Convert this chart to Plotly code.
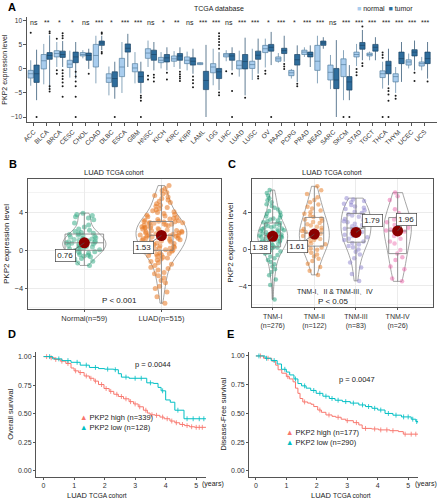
import plotly.graph_objects as go
import numpy as np

W, H = 438, 500
FONT = "Liberation Sans, Arial, Helvetica, sans-serif"

# ---------------- Panel A data (TCGA database) ----------------
cancers = ["ACC", "BLCA", "BRCA", "CESC", "CHOL", "COAD", "DLBC", "ESCA", "GBM", "HNSC", "KICH",
           "KIRC", "KIRP", "LAML", "LGG", "LIHC", "LUAD", "LUSC", "OV", "PAAD", "PCPG", "PRAD",
           "READ", "SARC", "SKCM", "STAD", "TGCT", "THCA", "THYM", "UCEC", "UCS"]
sig_labels = ["ns", "**", "*", "*", "ns", "***", "*", "***", "***", "ns", "*", "**", "ns", "***", "***",
              "ns", "***", "***", "*", "***", "*", "***", "***", "ns", "***", "***", "***", "***", "***",
              "***", "***"]

normal_lo = [-3.5, -3.2, 0.4, -1.8, 2.2, -3.0, -5.5, -5.0, -3.0, 0.4, 0.1, 0.4, -0.3, 0.8, -3.4, 1.6,
             -1.6, -2.3, 0.3, 1.3, -2.0, 2.5, -3.0, -4.2, -6.5, 0.6, 1.8, -4.1, -5.0, 0.1, -0.3]
normal_q1 = [-1.9, 0.0, 2.5, 0.3, 2.7, 0.4, -2.8, -1.6, -0.6, 2.2, 1.3, 1.6, 1.1, 0.9, -0.8, 2.5,
             0.0, 0.1, 3.4, 1.6, -1.4, 3.0, -0.3, -2.3, -1.6, 2.5, 2.7, -1.8, -2.7, 0.8, 0.6]
normal_med = [-1.0, 1.7, 3.2, 1.0, 3.0, 2.8, -1.9, 0.4, 0.2, 3.3, 1.8, 2.1, 1.8, 1.1, 0.4, 2.9,
              0.76, 0.9, 4.2, 2.1, -0.8, 3.5, 1.6, -0.7, 0.9, 3.0, 3.0, -1.0, -1.6, 1.45, 1.1]
normal_q3 = [-0.3, 3.0, 3.8, 1.8, 3.4, 5.1, -1.0, 2.2, 1.1, 4.2, 2.4, 2.7, 2.5, 1.3, 1.1, 3.2,
             1.7, 1.6, 4.9, 2.5, -0.3, 3.9, 4.9, 0.8, 2.1, 3.5, 3.3, -0.4, -1.0, 1.9, 1.45]
normal_hi = [1.8, 5.2, 5.6, 3.8, 3.9, 6.9, 0.5, 5.6, 3.5, 5.9, 3.5, 3.7, 3.6, 1.4, 4.2, 3.9,
             3.8, 4.2, 6.3, 3.3, 0.0, 4.5, 6.9, 2.9, 3.9, 5.2, 3.6, 1.5, 0.4, 3.2, 2.5]

tumor_lo = [-6.5, -4.1, 0.4, -2.0, 0.0, 3.9, -6.2, 0.4, -5.1, -0.3, -0.3, 0.0, -1.0, -10.0, -4.4, -0.3,
            -5.5, -1.0, 0.8, 1.5, -2.7, 0.4, 4.2, -10.0, -6.5, 1.8, 1.8, -3.4, -2.7, -0.3, -2.0]
tumor_q1 = [-2.8, 2.0, 2.4, 1.3, 1.8, 4.9, -3.7, 3.5, -2.8, 1.8, 1.45, 1.8, 0.8, -4.3, -2.0, 1.8,
            0.0, 2.0, 3.7, 3.2, 0.8, 2.5, 4.9, -4.1, -4.4, 4.1, 3.7, -1.0, 1.1, 2.7, 1.1]
tumor_med = [-1.0, 2.8, 3.0, 2.5, 2.8, 5.4, -2.0, 4.3, -1.6, 3.0, 2.3, 2.7, 1.6, -2.4, -0.6, 2.7,
             1.53, 2.85, 4.5, 3.8, 1.9, 3.0, 5.4, -2.3, -2.7, 4.9, 4.5, 0.76, 2.15, 3.5, 2.15]
tumor_q3 = [0.8, 3.4, 3.7, 3.5, 3.3, 5.8, -0.6, 5.2, -0.6, 3.9, 3.0, 3.2, 2.3, -0.5, 0.1, 3.2,
            3.0, 3.7, 5.1, 4.3, 3.0, 3.5, 5.8, 0.1, -1.6, 5.5, 5.1, 1.6, 3.5, 4.0, 3.5]
tumor_hi = [4.0, 7.0, 5.8, 5.6, 4.2, 6.9, 1.5, 7.3, 1.5, 5.6, 4.5, 4.5, 4.2, 5.0, 3.5, 4.5,
            6.5, 6.3, 7.7, 6.9, 4.9, 4.9, 6.6, 6.0, 0.8, 8.1, 6.6, 4.2, 5.6, 5.9, 5.6]

out_normal_cat = ["ACC", "BRCA", "BRCA", "BRCA", "HNSC", "HNSC", "LIHC", "OV", "OV", "STAD", "STAD",
                  "STAD", "THCA", "THCA", "THCA", "THCA", "THYM", "THYM", "SKCM"]
out_normal_val = [7.5, -0.3, -1.0, 6.3, -1.4, -2.2, -0.5, -0.4, -1.0, 0.0, -0.7, -1.3, 2.3, 2.9, 3.4,
                  -10.0, -5.6, -6.2, -10.0]
out_tumor_cat = ["ACC", "BLCA", "BLCA", "BLCA", "BLCA", "BLCA", "BRCA", "BRCA", "BRCA", "BRCA", "BRCA",
                 "BRCA", "BRCA", "BRCA", "BRCA", "BRCA", "CESC", "CESC", "CESC", "CESC", "CESC", "CESC",
                 "CHOL", "COAD", "COAD", "COAD", "COAD", "DLBC", "GBM", "GBM", "GBM", "GBM", "HNSC",
                 "HNSC", "HNSC", "KICH", "KICH", "KIRC", "KIRC", "KIRC", "KIRC", "KIRC", "KIRP", "KIRP",
                 "KIRP", "KIRP", "LGG", "LGG", "LGG", "LGG", "LGG", "LGG", "LGG", "LGG", "LIHC", "LIHC",
                 "LIHC", "LUAD", "LUSC", "LUSC", "OV", "PAAD", "PAAD", "PAAD", "PCPG", "PCPG", "SKCM",
                 "STAD", "STAD", "STAD", "THCA", "THCA", "THCA", "THCA", "THCA", "UCEC", "UCEC", "UCS"]
out_tumor_val = [-10.0, 7.4, 7.8, -3.6, -4.2, -4.7, 6.4, 6.9, 7.4, -0.3, -0.9, -1.5, -2.1, -2.8, -3.6,
                 -5.8, -0.6, -1.6, -2.6, -3.6, -5.8, -10.0, -1.0, 7.3, 7.6, 3.5, 3.2, -10.0, -5.6, -6.0,
                 -6.6, -10.0, -1.2, -1.8, -2.6, -0.8, -2.2, -0.6, -1.1, -1.6, -2.0, -2.5, -1.6, -2.3,
                 -3.0, -3.8, 4.2, 5.0, 5.6, 6.2, 6.8, 7.4, -4.9, -5.5, -1.0, -4.6, -10.0, -6.0, -1.5,
                 -2.0, -10.0, 1.0, 0.5, 0.0, -3.1, -3.6, -10.0, 8.8, 1.2, 0.6, -4.0, -4.6, -5.3, -6.6,
                 -10.0, -2.5, -0.8, -2.6]

# ---------------- Panel B data (LUAD TCGA cohort) ----------------
groups_B = ["Normal(n=59)", "LUAD(n=515)"]
normal_vals = [-1.62, -1.35, -1.18, -0.95, -0.88, -0.7, -0.62, -0.55, -0.48, -0.41, -0.3, -0.22, -0.18,
               -0.1, -0.04, 0.02, 0.08, 0.12, 0.21, 0.27, 0.31, 0.38, 0.44, 0.49, 0.55, 0.58, 0.63,
               0.69, 0.72, 0.76, 0.81, 0.86, 0.92, 0.98, 1.04, 1.1, 1.17, 1.22, 1.29, 1.36, 1.42, 1.5,
               1.56, 1.63, 1.7, 1.77, 1.85, 1.96, 2.08, 2.2, 2.41, 2.63, 2.85, 3.18, 3.36, 3.5, 3.62,
               3.74, 3.88]
luad_vals = [-5.6, -4.9, -4.4, -4.05, -3.8, -3.45, -3.2, -2.95, -2.7, -2.5, -2.35, -2.1, -1.95, -1.8,
             -1.62, -1.5, -1.33, -1.2, -1.06, -0.95, -0.84, -0.76, -0.65, -0.58, -0.5, -0.43, -0.36,
             -0.3, -0.24, -0.19, -0.13, -0.08, -0.03, 0.03, 0.07, 0.14, 0.18, 0.23, 0.3, 0.34, 0.41,
             0.45, 0.52, 0.57, 0.61, 0.68, 0.73, 0.79, 0.84, 0.88, 0.95, 1.0, 1.03, 1.09, 1.14, 1.19,
             1.23, 1.28, 1.33, 1.37, 1.41, 1.44, 1.47, 1.5, 1.53, 1.57, 1.6, 1.65, 1.71, 1.74, 1.79,
             1.83, 1.88, 1.93, 1.97, 2.02, 2.06, 2.11, 2.17, 2.2, 2.26, 2.31, 2.35, 2.4, 2.46, 2.51,
             2.55, 2.6, 2.64, 2.7, 2.74, 2.79, 2.83, 2.87, 2.9, 2.94, 2.97, 3.0, 3.04, 3.09, 3.13, 3.2,
             3.27, 3.33, 3.42, 3.5, 3.58, 3.66, 3.75, 3.83, 3.94, 4.03, 4.12, 4.24, 4.35, 4.47, 4.6,
             4.72, 4.86, 5.0, 5.13, 5.27, 5.42, 5.58, 5.73, 5.9, 6.06, 6.25, 6.47, 6.78]
means_B = [0.76, 1.53]

# ---------------- Panel C data (TNM stages) ----------------
groups_C = ["TNM-I<br>(n=276)", "TNM-II<br>(n=122)", "TNM-III<br>(n=83)", "TNM-IV<br>(n=26)"]
tnm1 = [-5.45, -3.9, -3.3, -2.85, -2.5, -2.2, -1.9, -1.65, -1.4, -1.2, -1.0, -0.82, -0.65, -0.5, -0.38,
        -0.26, -0.15, -0.06, 0.02, 0.1, 0.16, 0.23, 0.3, 0.37, 0.43, 0.5, 0.56, 0.62, 0.69, 0.74, 0.8,
        0.86, 0.92, 0.97, 1.03, 1.08, 1.13, 1.19, 1.24, 1.3, 1.35, 1.38, 1.42, 1.47, 1.52, 1.58, 1.63,
        1.69, 1.74, 1.8, 1.86, 1.91, 1.97, 2.03, 2.1, 2.16, 2.22, 2.29, 2.36, 2.43, 2.5, 2.58, 2.66,
        2.74, 2.81, 2.9, 2.99, 3.08, 3.18, 3.29, 3.4, 3.52, 3.65, 3.8, 3.95, 4.1, 4.28, 4.46, 4.65,
        4.85, 5.05, 5.27, 5.5, 5.75, 6.05, 6.38]
tnm2 = [-2.8, -2.35, -1.95, -1.6, -1.3, -1.05, -0.8, -0.6, -0.4, -0.22, -0.08, 0.05, 0.15, 0.28, 0.4,
        0.52, 0.63, 0.75, 0.86, 0.97, 1.08, 1.18, 1.29, 1.4, 1.5, 1.58, 1.64, 1.73, 1.84, 1.95, 2.06,
        2.17, 2.29, 2.41, 2.54, 2.67, 2.8, 2.93, 3.06, 3.2, 3.3, 3.45, 3.62, 3.8, 3.98, 4.17, 4.37,
        4.58, 4.8, 5.05, 5.3, 5.6, 5.95, 6.35, 6.78]
tnm3 = [-3.45, -2.7, -2.0, -1.45, -1.0, -0.6, -0.3, -0.05, 0.18, 0.32, 0.5, 0.66, 0.82, 0.98, 1.12,
        1.26, 1.4, 1.53, 1.66, 1.78, 1.85, 1.96, 2.08, 2.2, 2.33, 2.46, 2.6, 2.74, 2.88, 3.0, 3.12,
        3.25, 3.38, 3.5, 3.63, 3.76, 3.9, 4.04, 4.18, 4.32, 4.46, 4.6, 4.75, 4.9, 5.05, 5.2, 5.35, 5.5]
tnm4 = [6.1, 5.7, 5.3, 4.3, 3.9, 3.6, 3.4, 3.2, 2.9, 2.6, 2.3, 2.1, 2.0, 1.9, 1.4, 1.1, 0.8, 0.6, -0.1,
        -0.5, -0.9, -1.2, -1.9, -2.2, -3.2, -3.5]
means_C = [1.38, 1.61, 1.79, 1.96]

# ---------------- Panel D / E data (Kaplan-Meier) ----------------
os_high_t = [0, 0.2, 0.36, 0.55, 0.73, 0.9, 1.0, 1.15, 1.33, 1.5, 1.65, 1.8, 1.98, 2.15, 2.3, 2.45, 2.62,
             2.8, 2.95, 3.1, 3.27, 3.4, 3.49, 3.65, 3.81, 3.95, 4.14, 4.3, 4.46, 4.62, 4.78, 4.95, 5.32]
os_high_s = [1.0, 0.99, 0.975, 0.96, 0.94, 0.9, 0.875, 0.86, 0.83, 0.81, 0.785, 0.755, 0.72, 0.695, 0.67,
             0.65, 0.63, 0.605, 0.585, 0.56, 0.53, 0.505, 0.49, 0.485, 0.47, 0.455, 0.435, 0.42, 0.405,
             0.395, 0.385, 0.38, 0.38]
os_low_t = [0, 0.3, 0.6, 0.9, 1.2, 1.5, 1.8, 2.0, 2.3, 2.45, 2.55, 2.8, 3.38, 3.6, 3.75, 3.85, 4.0,
            4.15, 4.3, 4.6, 5.32]
os_low_s = [1.0, 0.98, 0.965, 0.95, 0.925, 0.905, 0.895, 0.89, 0.885, 0.85, 0.82, 0.81, 0.77, 0.765,
            0.73, 0.7, 0.62, 0.6, 0.53, 0.455, 0.455]
os_high_cens = [0.1, 0.25, 0.4, 0.6, 0.8, 1.05, 1.2, 1.4, 1.55, 1.7, 1.9, 2.05, 2.2, 2.4, 2.55, 2.7,
                2.85, 3.0, 3.15, 3.35, 3.55, 3.7, 3.9, 4.05, 4.2, 4.35, 4.55, 4.7, 4.85, 5.0, 5.1, 5.2]
os_low_cens = [0.2, 0.5, 0.8, 1.1, 1.4, 1.7, 2.1, 2.35, 2.7, 3.0, 3.2, 3.5, 3.9, 4.4, 4.7, 4.9, 5.1, 5.25]

dfs_high_t = [0, 0.25, 0.52, 0.65, 0.73, 0.85, 1.0, 1.1, 1.22, 1.3, 1.38, 1.45, 1.54, 1.7, 1.81, 1.9,
              2.03, 2.15, 2.3, 2.5, 2.62, 2.8, 2.95, 3.2, 3.38, 3.49, 3.8, 4.03, 4.4, 4.68, 4.84, 5.32]
dfs_high_s = [1.0, 0.98, 0.955, 0.92, 0.88, 0.85, 0.82, 0.8, 0.775, 0.72, 0.675, 0.63, 0.6, 0.59, 0.58,
              0.56, 0.53, 0.51, 0.487, 0.475, 0.467, 0.45, 0.437, 0.42, 0.4, 0.37, 0.365, 0.357, 0.35,
              0.342, 0.32, 0.32]
dfs_low_t = [0, 0.3, 0.5, 0.7, 0.84, 1.0, 1.11, 1.25, 1.38, 1.5, 1.65, 1.8, 1.98, 2.2, 2.41, 2.6, 2.84,
             3.1, 3.38, 3.6, 3.81, 4.0, 4.24, 4.5, 4.78, 5.1, 5.25, 5.32]
dfs_low_s = [1.0, 0.98, 0.96, 0.93, 0.884, 0.86, 0.835, 0.8, 0.76, 0.74, 0.72, 0.7, 0.675, 0.65, 0.63,
             0.615, 0.603, 0.59, 0.574, 0.56, 0.545, 0.53, 0.5, 0.485, 0.47, 0.45, 0.43, 0.42]
dfs_high_cens = [0.15, 0.4, 1.05, 1.6, 2.1, 2.4, 2.7, 3.0, 3.3, 3.6, 3.9, 4.1, 4.3, 4.5, 4.9, 5.1, 5.25]
dfs_low_cens = [0.1, 0.35, 0.6, 0.95, 1.3, 1.6, 1.9, 2.1, 2.3, 2.5, 2.7, 2.95, 3.2, 3.5, 3.7, 3.9, 4.1,
                4.35, 4.6, 4.85, 5.0, 5.15, 5.28]

year_ticks = [0, 1, 2, 3, 4, 5]
surv_ticks = [0, 0.25, 0.5, 0.75, 1.0]

# ---------------- helpers ----------------
def fx(px):
    return px / W


def fy(py):
    return 1 - py / H


def step_at(times, surv, tq):
    idx = np.searchsorted(np.asarray(times), np.asarray(tq), side="right") - 1
    return np.asarray(surv)[idx]


NORMAL_FILL, NORMAL_LINE = "#a9cdee", "#56809f"
TUMOR_FILL, TUMOR_LINE = "#2f6d9c", "#1d4566"
HIGH, LOW = "#f8766d", "#00bfc4"

fig = go.Figure()

# ---------------- Panel A ----------------
fig.add_trace(go.Box(x=cancers, q1=normal_q1, median=normal_med, q3=normal_q3,
                     lowerfence=normal_lo, upperfence=normal_hi, name="normal", offsetgroup="normal",
                     fillcolor=NORMAL_FILL, line=dict(color=NORMAL_LINE, width=0.7), whiskerwidth=0,
                     boxpoints=False, xaxis="x", yaxis="y", showlegend=False, hoverinfo="skip"))
fig.add_trace(go.Box(x=cancers, q1=tumor_q1, median=tumor_med, q3=tumor_q3,
                     lowerfence=tumor_lo, upperfence=tumor_hi, name="tumor", offsetgroup="tumor",
                     fillcolor=TUMOR_FILL, line=dict(color=TUMOR_LINE, width=0.7), whiskerwidth=0,
                     boxpoints=False, xaxis="x", yaxis="y", showlegend=False, hoverinfo="skip"))
for cats, vals, grp in [(out_normal_cat, out_normal_val, "normal"), (out_tumor_cat, out_tumor_val, "tumor")]:
    fig.add_trace(go.Box(x=cats, y=vals, offsetgroup=grp, boxpoints="all", jitter=0, pointpos=0,
                         fillcolor="rgba(0,0,0,0)", line=dict(width=0, color="rgba(0,0,0,0)"),
                         whiskerwidth=0, marker=dict(color="#1a1a1a", size=2),
                         xaxis="x", yaxis="y", showlegend=False, hoverinfo="skip"))

# ---------------- Panel B ----------------
vals_B = [normal_vals, luad_vals]
colors_B = ["rgba(40,165,125,0.5)", "rgba(232,120,35,0.55)"]
pos_B = [1, 2]
vwidth_B = [0.56, 0.66]
bwidth_B = [0.5, 0.3]
for v, c, p, vw, bw in zip(vals_B, colors_B, pos_B, vwidth_B, bwidth_B):
    fig.add_trace(go.Violin(y=v, x0=p, width=vw, points="all", jitter=0.9, pointpos=0,
                            marker=dict(color=c, size=5), line=dict(color="#808080", width=0.7),
                            fillcolor="rgba(0,0,0,0)", spanmode="hard", box_visible=False,
                            meanline_visible=False, xaxis="x2", yaxis="y2", showlegend=False,
                            hoverinfo="skip"))
    fig.add_trace(go.Box(y=v, x0=p, width=bw, offsetgroup="b", boxpoints=False, whiskerwidth=0,
                         fillcolor="rgba(255,255,255,0.1)", line=dict(color="#7a7a7a", width=0.8),
                         xaxis="x2", yaxis="y2", showlegend=False, hoverinfo="skip"))
fig.add_trace(go.Scatter(x=pos_B, y=means_B, mode="markers", marker=dict(color="#8b0000", size=11),
                         xaxis="x2", yaxis="y2", showlegend=False, hoverinfo="skip"))

# ---------------- Panel C ----------------
vals_C = [tnm1, tnm2, tnm3, tnm4]
colors_C = ["rgba(27,158,119,0.5)", "rgba(230,120,30,0.5)", "rgba(140,130,205,0.5)", "rgba(235,100,170,0.5)"]
pos_C = [1, 2, 3, 4]
vwidth_C = [0.72, 0.72, 0.72, 0.66]
bwidth_C = [0.38, 0.45, 0.43, 0.43]
for v, c, p, vw, bw in zip(vals_C, colors_C, pos_C, vwidth_C, bwidth_C):
    fig.add_trace(go.Violin(y=v, x0=p, width=vw, points="all", jitter=0.9, pointpos=0,
                            marker=dict(color=c, size=4.5), line=dict(color="#808080", width=0.7),
                            fillcolor="rgba(0,0,0,0)", spanmode="hard", box_visible=False,
                            meanline_visible=False, xaxis="x3", yaxis="y3", showlegend=False,
                            hoverinfo="skip"))
    fig.add_trace(go.Box(y=v, x0=p, width=bw, offsetgroup="c", boxpoints=False, whiskerwidth=0,
                         fillcolor="rgba(255,255,255,0.1)", line=dict(color="#7a7a7a", width=0.8),
                         xaxis="x3", yaxis="y3", showlegend=False, hoverinfo="skip"))
fig.add_trace(go.Scatter(x=pos_C, y=means_C, mode="markers", marker=dict(color="#8b0000", size=11),
                         xaxis="x3", yaxis="y3", showlegend=False, hoverinfo="skip"))

# ---------------- Panels D, E ----------------
km_sets = [
    ("x4", "y4", os_high_t, os_high_s, os_high_cens, HIGH),
    ("x4", "y4", os_low_t, os_low_s, os_low_cens, LOW),
    ("x5", "y5", dfs_high_t, dfs_high_s, dfs_high_cens, HIGH),
    ("x5", "y5", dfs_low_t, dfs_low_s, dfs_low_cens, LOW),
]
for xa, ya, t, s, cens, col in km_sets:
    fig.add_trace(go.Scatter(x=t, y=s, mode="lines", line=dict(color=col, width=1, shape="hv"),
                             xaxis=xa, yaxis=ya, showlegend=False, hoverinfo="skip"))
    fig.add_trace(go.Scatter(x=cens, y=step_at(t, s, cens), mode="markers",
                             marker=dict(symbol="line-ns", size=3.5, line=dict(color=col, width=0.8)),
                             xaxis=xa, yaxis=ya, showlegend=False, hoverinfo="skip"))

# ---------------- Annotations ----------------
ann = []


def text_px(x, y, text, size=7.5, xanchor="center", yanchor="middle", color="#222", bold=False):
    if bold:
        text = "<b>" + text + "</b>"
    ann.append(dict(x=fx(x), y=fy(y), xref="paper", yref="paper", text=text, showarrow=False,
                    xanchor=xanchor, yanchor=yanchor, font=dict(size=size, color=color, family=FONT)))


for lab, x, y in [("A", 1, 7), ("B", 2, 164), ("C", 224, 164), ("D", 1, 334), ("E", 223, 334)]:
    text_px(x, y, lab, size=11, xanchor="left", color="#000", bold=True)

text_px(216, 8, "TCGA database", size=7)
text_px(354, 8, '<span style="color:%s">■</span> normal  <span style="color:%s">■</span> tumor'
        % (NORMAL_FILL, TUMOR_FILL), size=7, xanchor="left")

for c, s in zip(cancers, sig_labels):
    ann.append(dict(x=c, y=9.6, xref="x", yref="y", text=s, showarrow=False,
                    font=dict(size=7, color="#222", family=FONT)))

cohort = 'LUAD <span style="font-size:6.5px">TCGA cohort</span>'
text_px(110, 172, cohort, size=7.5)
text_px(331, 172, cohort, size=7.5)
text_px(116, 300, "P < 0.001", size=8)
text_px(334, 291, "TNM-I、II & TNM-III、IV", size=7)
text_px(332, 301, "P < 0.05", size=8)

for p, m, ax, ay in zip(pos_B, means_B, [-19, -18], [13, 12]):
    ann.append(dict(x=p, y=m, xref="x2", yref="y2", text="%.2f" % m, showarrow=True, arrowhead=0,
                    arrowwidth=0.7, arrowcolor="#555", ax=ax, ay=ay, bordercolor="#444", borderwidth=0.7,
                    borderpad=1.5, bgcolor="white", font=dict(size=8, color="#222", family=FONT)))
for p, m, ax, ay in zip(pos_C, means_C, [-12, -17, 17, 9], [11, 12, -12, -11]):
    ann.append(dict(x=p, y=m, xref="x3", yref="y3", text="%.2f" % m, showarrow=True, arrowhead=0,
                    arrowwidth=0.7, arrowcolor="#555", ax=ax, ay=ay, bordercolor="#444", borderwidth=0.7,
                    borderpad=1.5, bgcolor="white", font=dict(size=8, color="#222", family=FONT)))

text_px(150, 364, "p = 0.0044", size=7.5)
text_px(356, 379, "p = 0.0047", size=7.5)
text_px(74, 417, '<span style="color:%s">▲</span> PKP2 high (n=339)' % HIGH, size=7.5, xanchor="left")
text_px(74, 427, '<span style="color:%s">▲</span> PKP2 low (n=128)' % LOW, size=7.5, xanchor="left")
text_px(282, 432, '<span style="color:%s">▲</span> PKP2 high (n=177)' % HIGH, size=7.5, xanchor="left")
text_px(282, 442, '<span style="color:%s">▲</span> PKP2 low (n=290)' % LOW, size=7.5, xanchor="left")
cohort_x = 'LUAD <span style="font-size:6.5px">TCGA cohort</span>'
text_px(93, 495, cohort_x, size=7.5)
text_px(340, 495, cohort_x, size=7.5)
text_px(197, 484, "(years)", size=7, xanchor="left")
text_px(413, 484, "(years)", size=7, xanchor="left")

# ---------------- Axes ----------------
tickfont = dict(size=7, color="#333", family=FONT)
ax_common = dict(showline=True, linecolor="#555", linewidth=0.8, ticks="outside", ticklen=2.5,
                 tickcolor="#555", tickwidth=0.8, zeroline=False, tickfont=tickfont)
frame = dict(ax_common, mirror=True, showgrid=True, gridcolor="#ebebeb", gridwidth=0.6)

layout = dict(
    width=W, height=H, margin=dict(l=0, r=0, t=0, b=0), paper_bgcolor="white", plot_bgcolor="white",
    showlegend=False, boxmode="group", boxgap=0.1, boxgroupgap=0.1, violinmode="overlay",
    font=dict(family=FONT, color="#222"), annotations=ann,
    xaxis=dict(ax_common, domain=[fx(22), fx(437)], anchor="y", type="category",
               categoryorder="array", categoryarray=cancers, range=[-0.53, 30.95], tickangle=-45,
               showgrid=False, tickfont=dict(size=6.5, color="#333", family=FONT)),
    yaxis=dict(ax_common, domain=[fy(122.3), fy(17)], anchor="x", range=[-11.1, 10.8],
               tickvals=[-10, -5, 0, 5, 10], showgrid=False,
               tickfont=dict(size=6.5, color="#333", family=FONT),
               title=dict(text="PKP2 expression level", font=dict(size=7, family=FONT), standoff=2)),
    xaxis2=dict(frame, domain=[fx(23.3), fx(218.3)], anchor="y2", range=[0.27, 2.77], tickvals=pos_B,
                ticktext=groups_B, tickfont=dict(size=7.5, color="#333", family=FONT)),
    yaxis2=dict(frame, domain=[fy(309), fy(179)], anchor="x2", range=[-6.2, 7.47], tickvals=[-4, 0, 4],
                minor=dict(tickvals=[-6, -2, 2, 6], showgrid=True, gridcolor="#f3f3f3", ticks=""),
                tickfont=dict(size=7.5, color="#333", family=FONT),
                title=dict(text="PKP2 expression level", font=dict(size=8, family=FONT), standoff=3)),
    xaxis3=dict(frame, domain=[fx(249.7), fx(433)], anchor="y3", range=[0.5, 4.85], tickvals=pos_C,
                ticktext=groups_C, tickfont=dict(size=7, color="#333", family=FONT)),
    yaxis3=dict(frame, domain=[fy(306.7), fy(179)], anchor="x3", range=[-6.24, 7.57], tickvals=[-4, 0, 4],
                minor=dict(tickvals=[-6, -2, 2, 6], showgrid=True, gridcolor="#f3f3f3", ticks=""),
                tickfont=dict(size=7.5, color="#333", family=FONT),
                title=dict(text="PKP2 expression level", font=dict(size=8, family=FONT), standoff=3)),
    xaxis4=dict(ax_common, domain=[fx(31.7), fx(203.3)], anchor="y4", range=[-0.236, 5.32], ticklen=2,
                tickvals=year_ticks, showgrid=False, tickfont=dict(size=7, color="#333", family=FONT)),
    yaxis4=dict(ax_common, domain=[fy(476.7), fy(351.7)], anchor="x4", range=[-0.053, 1.043],
                tickvals=surv_ticks, ticktext=["%.2f" % v for v in surv_ticks], showgrid=False,
                tickfont=dict(size=7, color="#333", family=FONT),
                title=dict(text="Overall survival", font=dict(size=7.5, family=FONT), standoff=3)),
    xaxis5=dict(ax_common, domain=[fx(247.3), fx(418)], anchor="y5", range=[-0.21, 5.33], ticklen=2,
                tickvals=year_ticks, showgrid=False, tickfont=dict(size=7, color="#333", family=FONT)),
    yaxis5=dict(ax_common, domain=[fy(476.7), fy(351.7)], anchor="x5", range=[-0.05, 1.037],
                tickvals=surv_ticks, ticktext=["%.2f" % v for v in surv_ticks], showgrid=False,
                tickfont=dict(size=7, color="#333", family=FONT),
                title=dict(text="Disease-Free survival", font=dict(size=7.5, family=FONT), standoff=3)),
)
fig.update_layout(**layout)
fig.write_html("out.html", config={"displayModeBar": False},
               post_script="document.body.style.margin='0px';")
